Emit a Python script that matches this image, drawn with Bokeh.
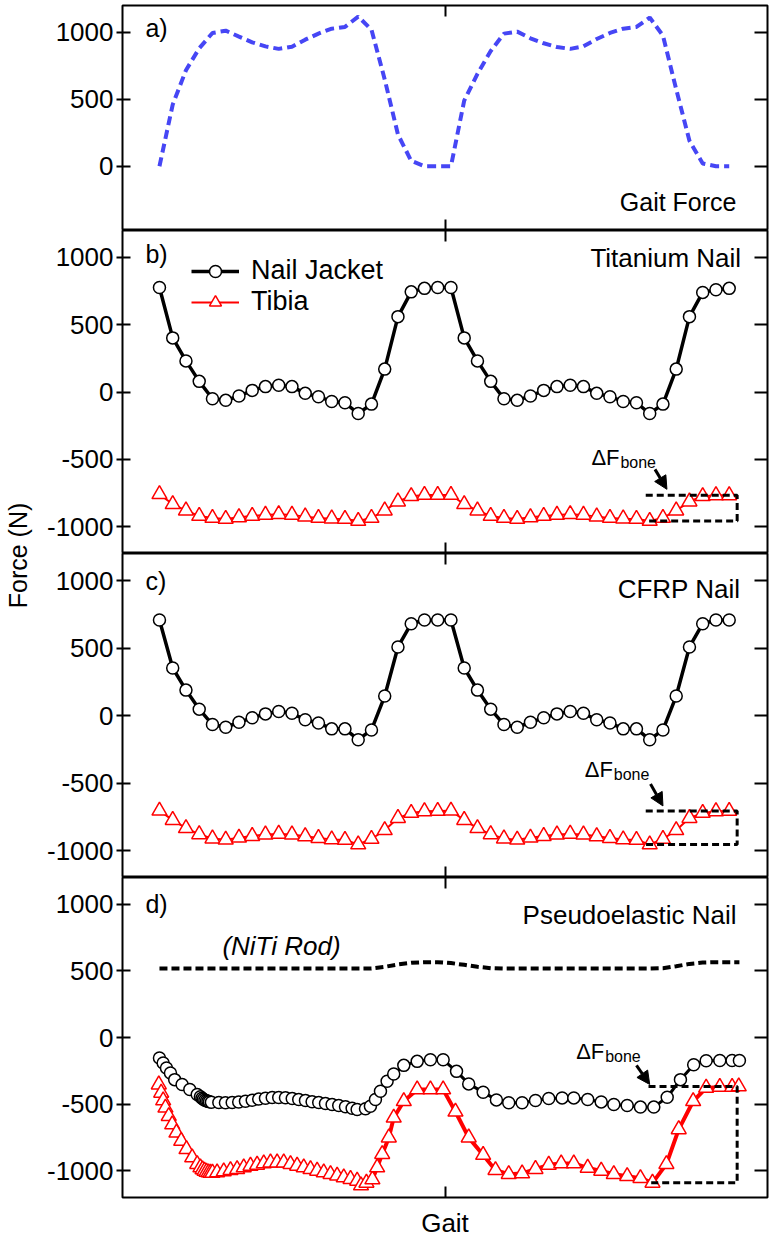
import math
from bokeh.plotting import figure
from bokeh.models import (Range1d, FixedTicker, LinearAxis, Label, Legend, LegendItem,
                          Arrow, NormalHead)
from bokeh.layouts import column, row
from bokeh.embed import file_html
from bokeh.resources import INLINE

FONT = "Liberation Sans"

# ---------------- data (sample index along two gait cycles) ----------------
gait_x = list(range(44))
gait_force = [0, 460, 717, 880, 995, 1012, 968, 925, 895, 876, 892, 945, 990, 1027, 1040, 1117,
              1020, 648, 237, 40, 0, 0,
              0, 490, 690, 860, 990, 1005, 955, 918, 890, 876, 895, 950, 995, 1027, 1040, 1110,
              975, 574, 190, 20, 0, 0]

ti_jacket = [776, 402, 231, 79, -50, -62, -30, 12, 40, 50, 40, -10, -35, -70, -80, -160, -90, 170, 560, 744, 770, 776,
             776, 402, 231, 79, -50, -62, -30, 12, 40, 50, 40, -10, -35, -70, -80, -160, -90, 170, 560, 740, 760, 770]
ti_tibia = [-760, -834, -881, -921, -936, -943, -931, -921, -913, -908, -913, -926, -936, -941, -943, -958, -936, -881, -814, -774, -765, -765,
            -765, -834, -881, -921, -936, -943, -931, -921, -913, -908, -913, -926, -936, -941, -943, -958, -936, -881, -814, -774, -768, -768]

cf_jacket = [707, 352, 188, 47, -67, -87, -50, -17, 12, 30, 17, -32, -55, -99, -99, -179, -107, 144, 508, 680, 707, 707,
             707, 352, 188, 47, -67, -87, -50, -17, 12, 30, 17, -32, -55, -99, -99, -179, -107, 144, 508, 680, 707, 707]
cf_tibia = [-705, -775, -835, -880, -912, -920, -905, -893, -882, -877, -882, -895, -908, -918, -922, -955, -915, -850, -760, -722, -710, -707,
            -705, -775, -835, -880, -912, -920, -905, -893, -882, -877, -882, -895, -908, -918, -922, -955, -915, -850, -760, -722, -710, -707]

pe_jacket_x = [0.00, 0.28, 0.53, 0.83, 1.15, 1.71, 2.29, 2.85, 3.09, 3.21, 3.32, 3.43, 3.55, 3.66, 3.77, 3.92,
               4.48, 4.98, 5.49, 5.98, 6.49, 7.00, 7.49, 8.00, 8.51, 9.00, 9.51, 10.02, 10.51, 11.02, 11.52,
               12.02, 12.53, 13.03, 13.53, 14.04, 14.54, 14.92, 15.55, 15.92, 16.30, 16.68, 17.18, 17.68,
               18.44, 19.45, 20.45, 21.41, 22.42, 23.34, 24.43, 25.43, 26.36, 27.37, 28.38, 29.38, 30.39,
               31.27, 32.32, 33.34, 34.29, 35.30, 36.30, 37.31, 38.32, 39.32, 40.32, 41.26, 42.29, 43.22, 43.77]
pe_jacket = [-154, -191, -229, -266, -316, -353, -390, -428, -445, -455, -463, -470, -475, -479, -482, -485,
             -488, -490, -488, -484, -478, -470, -462, -455, -450, -450, -452, -458, -465, -473, -482,
             -488, -495, -502, -510, -520, -530, -540, -535, -515, -465, -403, -328, -274,
             -209, -179, -167, -167, -254, -348, -410, -468, -490, -490, -473, -458, -453,
             -453, -465, -483, -502, -510, -522, -522, -448, -316, -204, -174, -172, -172, -172]

pe_tibia_x = [-0.05, 0.13, 0.28, 0.45, 0.70, 0.96, 1.28, 1.64, 2.04, 2.47, 2.85, 3.09, 3.25, 3.40, 3.55, 3.70,
              3.85, 4.00, 4.35, 4.85, 5.36, 5.86, 6.36, 6.87, 7.37, 7.87, 8.38, 8.88, 9.38, 9.89, 10.39,
              10.89, 11.40, 11.90, 12.40, 12.91, 13.41, 13.91, 14.42, 14.92, 15.21, 15.62, 16.07, 16.43,
              16.81, 17.31, 17.68, 18.44, 19.45, 20.45, 21.41, 22.34, 23.34, 24.43, 25.36, 26.36, 27.37,
              28.38, 29.38, 30.32, 31.27, 32.32, 33.34, 34.29, 35.30, 36.30, 37.21, 38.26, 39.19, 40.28,
              41.26, 42.29, 43.22, 43.72]
pe_tibia = [-353, -415, -472, -527, -590, -652, -714, -776, -838, -900, -950, -975, -990, -1000, -1008, -1012,
            -1015, -1015, -1012, -1005, -995, -988, -975, -963, -955, -945, -938, -938, -938, -950, -963,
            -975, -988, -1000, -1012, -1025, -1037, -1050, -1062, -1075, -1110, -1090, -1065, -975,
            -875, -751, -602, -478, -390, -390, -390, -557, -751, -881, -995, -1025, -1020,
            -987, -955, -945, -945, -978, -1000, -1025, -1040, -1055, -1090, -950, -689, -478,
            -378, -371, -371, -367]

rod_x = list(range(44)) + [43.77]
rod = [517, 517, 517, 517, 517, 517, 517, 517, 517, 517, 517, 517, 517, 517, 517, 517,
       518, 530, 548, 560, 565, 565, 558, 545, 530, 520,
       517, 517, 517, 517, 517, 517, 517, 517, 517, 517, 517, 517,
       520, 535, 552, 562, 565, 565, 565]

y_ticks_a = [0, 500, 1000]
y_ticks = [-1000, -500, 0, 500, 1000]

# ---------------- layout constants ----------------
X_START, X_END = -2.79, 45.89
X_TICK = 21.55
LABEL_W = 42
BORDER_L = 80
FRAME_W = 645
BORDER_R = 2
H_A, H_B, H_C, H_D = 225, 323, 324, 320
TOP_A, BOTTOM_D = 5, 41
TOTAL_H = TOP_A + H_A + H_B + H_C + H_D + BOTTOM_D

xr = Range1d(X_START, X_END)


def make_panel(y0, y1, ticks, fh, top=0, bottom=0, xlabel=None):
    p = figure(frame_width=FRAME_W, frame_height=fh, x_range=xr, y_range=Range1d(y0, y1),
               output_backend="svg", toolbar_location=None,
               x_axis_location=None, y_axis_location=None,
               min_border_left=BORDER_L, min_border_right=BORDER_R,
               min_border_top=top, min_border_bottom=bottom)
    p.xgrid.visible = False
    p.ygrid.visible = False
    p.outline_line_color = "black"
    p.outline_line_width = 2
    p.outline_line_alpha = 1
    p.background_fill_color = "white"

    def common(ax):
        ax.major_tick_line_color = "black"
        ax.major_tick_line_width = 2
        ax.minor_tick_line_color = None
        ax.axis_line_color = None
        ax.major_label_text_font = FONT
        ax.major_label_text_color = "black"

    left = LinearAxis(ticker=FixedTicker(ticks=ticks), major_tick_in=8, major_tick_out=6,
                      major_label_standoff=3, major_label_text_font_size="26px",
                      major_label_overrides={t: str(t) for t in ticks})
    common(left)
    p.add_layout(left, "left")

    right = LinearAxis(ticker=FixedTicker(ticks=ticks), major_tick_in=13, major_tick_out=0,
                       major_label_standoff=0, major_label_text_font_size="0px",
                       major_label_overrides={t: "" for t in ticks})
    common(right)
    p.add_layout(right, "right")

    for loc in ("above", "below"):
        ax = LinearAxis(ticker=FixedTicker(ticks=[X_TICK]), major_tick_in=11, major_tick_out=0,
                        major_label_standoff=0, major_label_text_font_size="0px",
                        major_label_overrides={X_TICK: ""})
        common(ax)
        if loc == "below" and xlabel:
            ax.axis_label = xlabel
            ax.axis_label_text_font = FONT
            ax.axis_label_text_font_size = "26px"
            ax.axis_label_text_font_style = "normal"
            ax.axis_label_text_color = "black"
            ax.axis_label_standoff = 10
        p.add_layout(ax, loc)
    return p


def corner_labels(p, letter, ly, title, tx, ty, tsize="26px"):
    p.add_layout(Label(x=-1.06, y=ly, text=letter, text_font=FONT, text_font_size="25px",
                       text_color="black", text_baseline="alphabetic", text_align="left"))
    p.add_layout(Label(x=tx, y=ty, text=title, text_font=FONT, text_font_size=tsize,
                       text_color="black", text_baseline="alphabetic", text_align="right"))


def add_series(p, xj, yj, xt, yt, jw, tw):
    lt = p.line(xt, yt, line_color="#ff0000", line_width=tw)
    mt = p.scatter(xt, yt, marker="triangle", size=15, fill_color="white", line_color="#ff0000",
                   line_width=1.5)
    lj = p.line(xj, yj, line_color="black", line_width=jw)
    mj = p.scatter(xj, yj, marker="circle", size=12, fill_color="white", line_color="black",
                   line_width=1.5)
    return lj, mj, lt, mt


def delta_box(p, xt, yt, tx, ty, ax0, ay0, ax1, ay1):
    last = [i for i, v in enumerate(xt) if v > 30]
    imin = min(last, key=lambda i: yt[i])
    top, bot = yt[-1], yt[imin]
    left, right = xt[imin] - 0.3, 43.6
    p.line([left, right, right, left], [top, top, bot, bot], line_color="black",
           line_width=3, line_dash="7 4")
    p.add_layout(Label(x=tx, y=ty, text="ΔF", text_font=FONT, text_font_size="22px",
                       text_color="black", text_baseline="alphabetic"))
    p.add_layout(Label(x=tx, y=ty, x_offset=29, y_offset=-5, text="bone", text_font=FONT,
                       text_font_size="16px", text_color="black", text_baseline="alphabetic"))
    p.add_layout(Arrow(end=NormalHead(size=13, fill_color="black", line_color="black", line_width=1),
                       x_start=ax0, y_start=ay0, x_end=ax1, y_end=ay1,
                       line_color="black", line_width=3))


# ---------------- panel a ----------------
pa = make_panel(-480, 1200, y_ticks_a, H_A, top=TOP_A)
pa.line(gait_x, gait_force, line_color="#4646f5", line_width=4, line_dash="9 5")
corner_labels(pa, "a)", 1035, "Gait Force", 43.55, -270, tsize="25px")

# ---------------- panel b ----------------
pb = make_panel(-1200, 1200, y_ticks, H_B)
lj, mj, lt, mt = add_series(pb, gait_x, ti_jacket, gait_x, ti_tibia, 3.5, 2)
corner_labels(pb, "b)", 1022, "Titanium Nail", 43.9, 992)
delta_box(pb, gait_x, ti_tibia, 32.6, -490, 37.4, -575, 38.3, -723)
legend = Legend(items=[LegendItem(label="Nail Jacket", renderers=[lj, mj]),
                       LegendItem(label="Tibia", renderers=[lt, mt])],
                location=(69, 236), orientation="vertical", glyph_width=48, glyph_height=30,
                label_height=30, label_standoff=12, spacing=0, padding=0, margin=0,
                border_line_color=None, background_fill_alpha=0,
                label_text_font=FONT, label_text_font_size="27px", label_text_color="black")
pb.add_layout(legend)

# ---------------- panel c ----------------
pc = make_panel(-1200, 1200, y_ticks, H_C)
add_series(pc, gait_x, cf_jacket, gait_x, cf_tibia, 3.5, 2)
corner_labels(pc, "c)", 998, "CFRP Nail", 43.85, 934)
delta_box(pc, gait_x, cf_tibia, 32.1, -402, 37.06, -508, 38.0, -670)

# ---------------- panel d ----------------
pd_ = make_panel(-1200, 1200, y_ticks, H_D, bottom=BOTTOM_D, xlabel="Gait")
pd_.line(rod_x, rod, line_color="black", line_width=4, line_dash="8 4")
add_series(pd_, pe_jacket_x, pe_jacket, pe_tibia_x, pe_tibia, 3, 4)
corner_labels(pd_, "d)", 1005, "Pseudoelastic Nail", 43.55, 921)
pd_.add_layout(Label(x=4.75, y=690, text="(NiTi Rod)", text_font=FONT, text_font_size="26px",
                     text_font_style="italic", text_color="black", text_baseline="alphabetic"))
delta_box(pd_, pe_tibia_x, pe_tibia, 31.45, -107, 36.0, -209, 37.0, -352)

# ---------------- shared y label ----------------
lab = figure(width=LABEL_W, height=TOTAL_H, x_range=Range1d(0, LABEL_W), y_range=Range1d(0, TOTAL_H),
             output_backend="svg", toolbar_location=None, x_axis_location=None, y_axis_location=None,
             min_border=0)
lab.xgrid.visible = False
lab.ygrid.visible = False
lab.outline_line_color = None
lab.add_layout(Label(x=17, y=TOTAL_H - 555, text="Force (N)", angle=math.pi / 2, text_align="center",
                     text_baseline="middle", text_font=FONT, text_font_size="25px",
                     text_color="black"))

layout = row(lab, column(pa, pb, pc, pd_, spacing=0), spacing=0)

with open("out.html", "w") as f:
    f.write(file_html(layout, INLINE))
